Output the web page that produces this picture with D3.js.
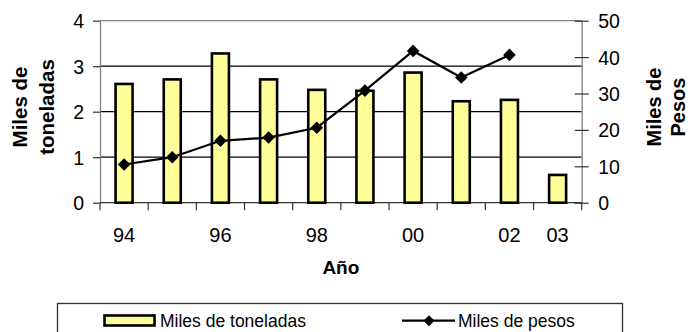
<!DOCTYPE html>
<html><head><meta charset="utf-8">
<script src="https://cdn.jsdelivr.net/npm/d3@7"></script>
<style>html,body{margin:0;padding:0;background:#fff;}svg{display:block;font-family:"Liberation Sans",Arial,sans-serif;}</style>
</head><body>
<svg id="c" width="690" height="332"></svg>
<script>
const categories = ["94","95","96","97","98","99","00","01","02","03"];
const xTickLabels = ["94","","96","","98","","00","","02","03"];
const toneladas = [2.61, 2.71, 3.28, 2.71, 2.48, 2.46, 2.86, 2.23, 2.26, 0.61];
const pesos = [10.5, 12.5, 17.0, 17.9, 20.6, 30.8, 41.7, 34.4, 40.6, null];
const leftTicks = [0,1,2,3,4];
const rightTicks = [0,10,20,30,40,50];

const svg = d3.select("#c");
const L = 100, R = 581.7, T = 20.7, B = 202.7;
const x = d3.scaleBand().domain(categories).range([L, R]).paddingInner(0).paddingOuter(0);
const yL = d3.scaleLinear().domain([0,4]).range([B, T]);
const yR = d3.scaleLinear().domain([0,50]).range([B, T]);

// gridlines
svg.append("g").selectAll("line").data([1,2,3]).join("line")
  .attr("x1", L).attr("x2", R).attr("y1", d=>yL(d)).attr("y2", d=>yL(d))
  .attr("stroke", "#000").attr("stroke-width", 1.2);
// top border
svg.append("line").attr("x1", L).attr("x2", R).attr("y1", yL(4)).attr("y2", yL(4))
  .attr("stroke", "#808080").attr("stroke-width", 1.3);

// left axis
const gL = svg.append("g").attr("transform", `translate(${L},0)`)
  .call(d3.axisLeft(yL).tickValues(leftTicks).tickFormat(d3.format("d")).tickSize(7).tickSizeOuter(0));
gL.select(".domain").attr("stroke", "#808080").attr("stroke-width", 1.3);
gL.selectAll(".tick line").attr("stroke", "#333").attr("stroke-width", 1.2);
gL.selectAll(".tick text").attr("font-size", 19.5).attr("fill", "#000").attr("font-family", "Liberation Sans, Arial, sans-serif")
  .attr("x", -16).attr("dy", "0.36em");

// right axis
const gR = svg.append("g").attr("transform", `translate(${R},0)`)
  .call(d3.axisRight(yR).tickValues(rightTicks).tickFormat(d3.format("d")).tickSize(7).tickSizeOuter(0));
gR.select(".domain").attr("stroke", "#808080").attr("stroke-width", 1.3);
gR.selectAll(".tick line").attr("stroke", "#333").attr("stroke-width", 1.2).attr("x1", -7);
gR.selectAll(".tick text").attr("font-size", 19.5).attr("fill", "#000").attr("font-family", "Liberation Sans, Arial, sans-serif")
  .attr("x", 16.5).attr("dy", "0.36em");

// bottom axis
const boundaries = d3.range(categories.length + 1).map(i => L + i * x.step());
svg.append("line").attr("x1", L).attr("x2", R).attr("y1", B).attr("y2", B).attr("stroke", "#333").attr("stroke-width", 1.3);
svg.append("g").selectAll("line").data(boundaries).join("line")
  .attr("x1", d=>d).attr("x2", d=>d).attr("y1", B).attr("y2", B + 7.5)
  .attr("stroke", "#333").attr("stroke-width", 1.2);
svg.append("g").selectAll("text").data(categories).join("text")
  .attr("x", d => x(d) + x.bandwidth()/2).attr("y", 241.5)
  .attr("text-anchor", "middle").attr("font-size", 20)
  .text((d,i) => xTickLabels[i]);

// bars
const bw = 17;
svg.append("g").selectAll("rect").data(toneladas).join("rect")
  .attr("x", (d,i) => x(categories[i]) + x.bandwidth()/2 - bw/2)
  .attr("width", bw)
  .attr("y", d => yL(d)).attr("height", d => B - yL(d))
  .attr("fill", "#FFFF99").attr("stroke", "#000").attr("stroke-width", 2.6);

// line
const pts = pesos.map((v,i) => ({c: categories[i], v})).filter(p => p.v != null);
svg.append("path").datum(pts)
  .attr("d", d3.line().x(p => x(p.c) + x.bandwidth()/2).y(p => yR(p.v)))
  .attr("fill", "none").attr("stroke", "#000").attr("stroke-width", 2.2);
const diamond = s => `M0,${-s}L${s},0L0,${s}L${-s},0Z`;
svg.append("g").selectAll("path").data(pts).join("path")
  .attr("transform", p => `translate(${x(p.c) + x.bandwidth()/2},${yR(p.v)})`)
  .attr("d", diamond(6.3)).attr("fill", "#000");

// axis titles
function twoLine(xs, lines, cy, fs) {
  lines.forEach((t, i) => {
    svg.append("text").attr("transform", `translate(${xs[i]},${cy}) rotate(-90)`)
      .attr("text-anchor", "middle").attr("font-size", fs).attr("font-weight", "bold").text(t);
  });
}
twoLine([27, 53.5], ["Miles de", "toneladas"], 107, 20.5);
twoLine([661, 685], ["Miles de", "Pesos"], 107, 20);

svg.append("text").attr("x", (L+R)/2).attr("y", 274).attr("text-anchor", "middle")
  .attr("font-size", 19).attr("font-weight", "bold").text("Año");

// legend
svg.append("rect").attr("x", 57.5).attr("y", 303.5).attr("width", 565).attr("height", 40)
  .attr("fill", "#fff").attr("stroke", "#333").attr("stroke-width", 1.3);
svg.append("rect").attr("x", 104.5).attr("y", 315.5).attr("width", 50).attr("height", 10)
  .attr("fill", "#FFFF99").attr("stroke", "#000").attr("stroke-width", 2.6);
svg.append("text").attr("x", 160).attr("y", 326.5).attr("font-size", 17.5).text("Miles de toneladas");
svg.append("line").attr("x1", 402).attr("x2", 455).attr("y1", 320.7).attr("y2", 320.7)
  .attr("stroke", "#000").attr("stroke-width", 2.2);
svg.append("path").attr("transform", "translate(429,320.7)").attr("d", diamond(5.5)).attr("fill", "#000");
svg.append("text").attr("x", 458).attr("y", 326.5).attr("font-size", 17.5).text("Miles de pesos");
</script>
</body></html>
